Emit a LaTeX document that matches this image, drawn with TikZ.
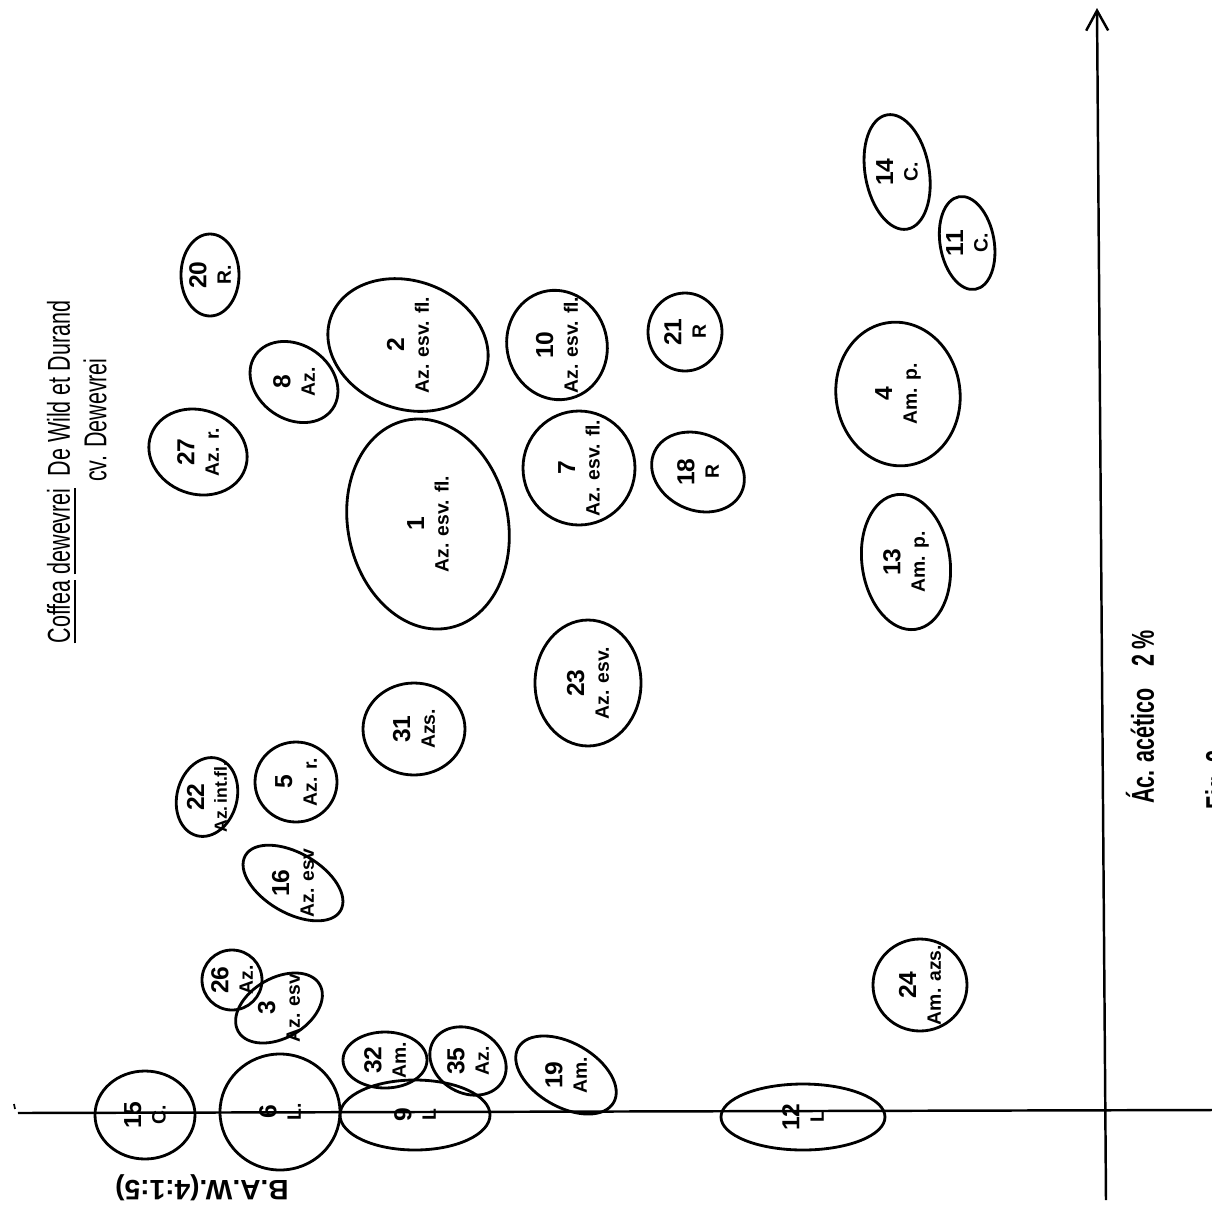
\documentclass[tikz,border=0pt]{standalone}
\usepackage{fontspec}
\setmainfont{Liberation Sans}
\newfontfamily\titlefont[FakeStretch=0.68]{Liberation Sans}
\usetikzlibrary{arrows.meta}
\tikzset{
  spotlbl/.style={rotate=90, align=center, inner sep=0pt, font=\fontsize{5.5}{7}\selectfont\bfseries},
  spotline/.style={draw=black, line width=0.8pt},
  axisline/.style={draw=black, line width=0.7pt},
  axislabel/.style={font=\titlefont\fontsize{9}{10}\selectfont\bfseries, inner sep=0pt},
}
\newcommand{\spotnum}[1]{{\fontsize{7}{7}\selectfont #1}}

\begin{document}
\begin{tikzpicture}
  \useasboundingbox (0,0) rectangle (12.12,-12.32);
  \clip (0,0) rectangle (12.12,-12.32);

  % ejes
  \coordinate (ybot)   at (11.06,-12.00);
  \coordinate (ytop)   at (10.97,-0.08);
  \coordinate (xleft)  at (0.18,-11.13);
  \coordinate (xright) at (12.12,-11.10);
  \coordinate (tick)   at (0.14,-11.04);
  \draw[axisline, -{Straight Barb[length=2mm,width=2.2mm]}] (ybot) -- (ytop);
  \draw[axisline] (xleft) -- (xright);
  \draw[line width=0.5pt] (tick) -- ++(0.01,-0.05);

  % textos
  \node[rotate=90, font=\titlefont\fontsize{9}{10}\selectfont, inner sep=0pt] (title) at (0.62,-4.72)
    {\underline{Coffea}\ \underline{dewevrei}\ \ De Wild et Durand};
  \node[rotate=90, font=\titlefont\fontsize{9}{10}\selectfont, inner sep=0pt] (cv) at (0.95,-4.20) {cv. Dewevrei};
  \node[axislabel, rotate=90] (acido) at (11.40,-7.17) {Ác. acético\enspace\ 2\,\%};
  \node[axislabel, rotate=90] (fig) at (12.20,-7.80) {Fig. 2};
  \node[rotate=180, font=\fontsize{8}{9}\selectfont\bfseries, inner sep=0pt] (baw) at (2.02,-11.88) {B.A.W.(4:1:5)};

  % manchas
  \node[spotlbl] (s1) at (4.28,-5.24) {\spotnum{1}\\Az. esv. fl.};
  \draw[spotline, rotate around={12:(s1)}] (s1) ellipse [x radius=0.80, y radius=1.06];
  \node[spotlbl] (s2) at (4.08,-3.45) {\spotnum{2}\\Az. esv. fl.};
  \draw[spotline, rotate around={-20:(s2)}] (s2) ellipse [x radius=0.82, y radius=0.64];
  \node[spotlbl] (s3) at (2.79,-10.08) {\spotnum{3}\\Az. esv};
  \draw[spotline, rotate around={30:(s3)}] (s3) ellipse [x radius=0.47, y radius=0.30];
  \node[spotlbl] (s4) at (8.98,-3.94) {\spotnum{4}\\Am. p.};
  \draw[spotline, rotate around={8:(s4)}] (s4) ellipse [x radius=0.62, y radius=0.72];
  \node[spotlbl] (s5) at (2.96,-7.82) {\spotnum{5}\\Az. r.};
  \draw[spotline] (s5) ellipse [x radius=0.41, y radius=0.40];
  \node[spotlbl] (s6) at (2.80,-11.12) {\spotnum{6}\\L.};
  \draw[spotline] (s6) ellipse [x radius=0.60, y radius=0.58];
  \node[spotlbl] (s7) at (5.79,-4.68) {\spotnum{7}\\Az. esv. fl.};
  \draw[spotline] (s7) ellipse [x radius=0.56, y radius=0.57];
  \node[spotlbl] (s8) at (2.94,-3.82) {\spotnum{8}\\Az.};
  \draw[spotline, rotate around={-35:(s8)}] (s8) ellipse [x radius=0.47, y radius=0.37];
  \node[spotlbl] (s9) at (4.15,-11.15) {\spotnum{9}\\L};
  \draw[spotline] (s9) ellipse [x radius=0.75, y radius=0.35];
  \node[spotlbl] (s10) at (5.57,-3.45) {\spotnum{10}\\Az. esv. fl.};
  \draw[spotline, rotate around={15:(s10)}] (s10) ellipse [x radius=0.50, y radius=0.55];
  \node[spotlbl] (s11) at (9.67,-2.43) {\spotnum{11}\\C.};
  \draw[spotline, rotate around={10:(s11)}] (s11) ellipse [x radius=0.27, y radius=0.47];
  \node[spotlbl] (s12) at (8.03,-11.17) {\spotnum{12}\\L};
  \draw[spotline] (s12) ellipse [x radius=0.82, y radius=0.33];
  \node[spotlbl] (s13) at (9.06,-5.62) {\spotnum{13}\\Am. p.};
  \draw[spotline, rotate around={8:(s13)}] (s13) ellipse [x radius=0.44, y radius=0.68];
  \node[spotlbl] (s14) at (8.97,-1.72) {\spotnum{14}\\C.};
  \draw[spotline, rotate around={10:(s14)}] (s14) ellipse [x radius=0.32, y radius=0.58];
  \node[spotlbl] (s15) at (1.45,-11.15) {\spotnum{15}\\C.};
  \draw[spotline] (s15) ellipse [x radius=0.50, y radius=0.44];
  \node[spotlbl] (s16) at (2.93,-8.83) {\spotnum{16}\\Az. esv};
  \draw[spotline, rotate around={-30:(s16)}] (s16) ellipse [x radius=0.55, y radius=0.30];
  \node[spotlbl] (s18) at (6.98,-4.72) {\spotnum{18}\\R};
  \draw[spotline, rotate around={-25:(s18)}] (s18) ellipse [x radius=0.48, y radius=0.38];
  \node[spotlbl] (s19) at (5.66,-10.75) {\spotnum{19}\\Am.};
  \draw[spotline, rotate around={-30:(s19)}] (s19) ellipse [x radius=0.55, y radius=0.32];
  \node[spotlbl] (s20) at (2.10,-2.75) {\spotnum{20}\\R.};
  \draw[spotline] (s20) ellipse [x radius=0.29, y radius=0.41];
  \node[spotlbl] (s21) at (6.85,-3.32) {\spotnum{21}\\R};
  \draw[spotline] (s21) ellipse [x radius=0.37, y radius=0.39];
  \node[spotlbl, font=\fontsize{5}{6.5}\selectfont\bfseries] (s22) at (2.07,-7.97) {\spotnum{22}\\Az.\,int.fl.};
  \draw[spotline, rotate around={-15:(s22)}] (s22) ellipse [x radius=0.30, y radius=0.40];
  \node[spotlbl] (s23) at (5.88,-6.83) {\spotnum{23}\\Az. esv.};
  \draw[spotline] (s23) ellipse [x radius=0.53, y radius=0.63];
  \node[spotlbl] (s24) at (9.20,-9.85) {\spotnum{24}\\Am. azs.};
  \draw[spotline] (s24) ellipse [x radius=0.47, y radius=0.46];
  \node[spotlbl] (s26) at (2.32,-9.80) {\spotnum{26}\\Az.};
  \draw[spotline] (s26) ellipse [x radius=0.30, y radius=0.30];
  \node[spotlbl] (s27) at (1.98,-4.52) {\spotnum{27}\\Az. r.};
  \draw[spotline, rotate around={-20:(s27)}] (s27) ellipse [x radius=0.50, y radius=0.42];
  \node[spotlbl] (s31) at (4.14,-7.29) {\spotnum{31}\\Azs.};
  \draw[spotline] (s31) ellipse [x radius=0.51, y radius=0.46];
  \node[spotlbl] (s32) at (3.85,-10.60) {\spotnum{32}\\Am.};
  \draw[spotline] (s32) ellipse [x radius=0.42, y radius=0.28];
  \node[spotlbl] (s35) at (4.68,-10.61) {\spotnum{35}\\Az.};
  \draw[spotline, rotate around={-30:(s35)}] (s35) ellipse [x radius=0.40, y radius=0.32];
\end{tikzpicture}
\end{document}
